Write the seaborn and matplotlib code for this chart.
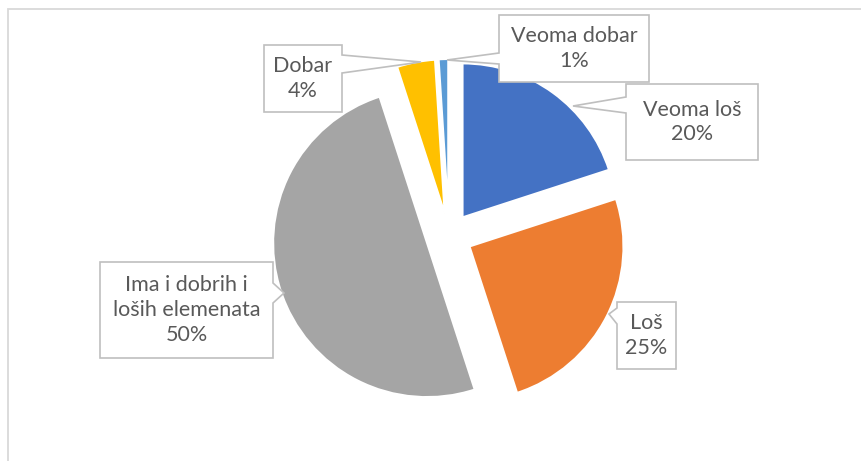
import matplotlib
matplotlib.use("Agg")
import matplotlib.pyplot as plt
import seaborn as sns
from matplotlib.patches import Polygon

# data
categories = ["Veoma loš", "Loš", "Ima i dobrih i\nloših elemenata", "Dobar", "Veoma dobar"]
shares = [20, 25, 50, 4, 1]
colors = ["#4472C4", "#ED7D31", "#A5A5A5", "#FFC000", "#5B9BD5"]

W, H = 861, 461

# callout boxes in pixel coords (y down): box, pointer side base points, tip
callouts = [
    dict(box=(626, 84, 758, 160), base=((626, 97), (626, 113)), tip=(573, 106)),
    dict(box=(617, 302, 676, 369), base=((617, 308), (617, 324)), tip=(609, 314)),
    dict(box=(100, 262, 273, 358), base=((273, 283), (273, 303)), tip=(284, 293)),
    dict(box=(264, 45, 342, 112), base=((342, 55), (342, 73)), tip=(421, 62)),
    dict(box=(499, 15, 649, 82), base=((499, 53), (499, 64)), tip=(447, 60)),
]

sns.set_theme(style="white")
plt.rcParams["font.family"] = ["Lato", "DejaVu Sans"]

fig = plt.figure(figsize=(W / 100, H / 100), dpi=100)
ax = fig.add_axes([0, 0, 1, 1])


def fy(y):
    return H - y


ax.pie(shares, colors=colors, startangle=90, counterclock=False,
       center=(449, fy(236)), radius=154, explode=[23] * len(shares),
       wedgeprops=dict(linewidth=1.5, edgecolor="white"))

ax.set_xlim(0, W)
ax.set_ylim(0, H)
ax.set_aspect("equal")
ax.axis("off")

# chart frame (only top and left edges visible)
ax.plot([7.5, 7.5, W + 5], [-5, fy(9), fy(9)], color="#D9D9D9", lw=1.3,
        solid_joinstyle="miter")


def callout_poly(box, base, tip):
    x0, y0, x1, y1 = box
    (bx1, by1), (bx2, by2) = base
    if bx1 == x0:  # pointer on left side
        pts = [(x0, y0), (x1, y0), (x1, y1), (x0, y1), (bx2, by2), tip, (bx1, by1)]
    else:  # pointer on right side
        pts = [(x0, y0), (x1, y0), (bx1, by1), tip, (bx2, by2), (x1, y1), (x0, y1)]
    return [(x, fy(y)) for x, y in pts]


for cat, val, c in zip(categories, shares, callouts):
    poly = Polygon(callout_poly(c["box"], c["base"], c["tip"]), closed=True,
                   facecolor="white", edgecolor="#BFBFBF", lw=1.2, zorder=3)
    ax.add_patch(poly)
    x0, y0, x1, y1 = c["box"]
    ax.text((x0 + x1) / 2, fy((y0 + y1) / 2), f"{cat}\n{val}%", ha="center",
            va="center", fontsize=15.5, color="#595959", linespacing=1.3,
            zorder=4)

fig.savefig("out.png", dpi=100)
